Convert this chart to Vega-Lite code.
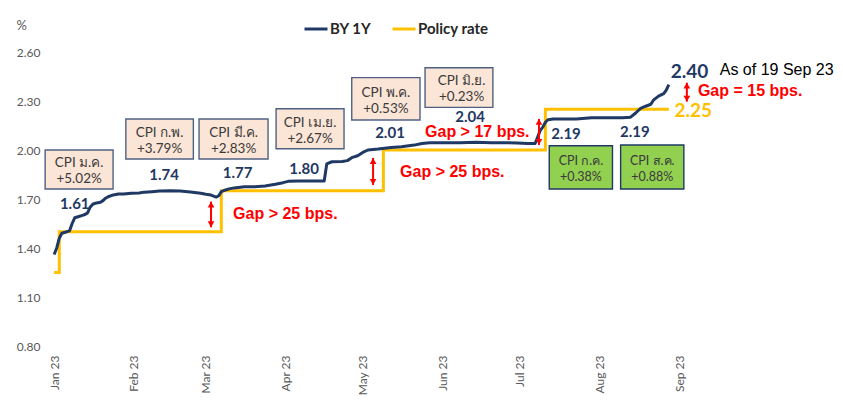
{
  "$schema": "https://vega.github.io/schema/vega-lite/v6.json",
  "width": 661,
  "height": 294,
  "autosize": {"type": "none"},
  "padding": {"left": 49, "top": 52, "right": 133, "bottom": 59},
  "background": "white",
  "config": {"view": {"stroke": null}, "font": "Lato"},
  "datasets": {
    "rates": [
      {"date": "2023-01-23T00:00:00Z", "series": "Policy rate", "value": 1.25},
      {"date": "2023-01-25T00:00:00Z", "series": "Policy rate", "value": 1.50},
      {"date": "2023-03-29T00:00:00Z", "series": "Policy rate", "value": 1.75},
      {"date": "2023-05-31T00:00:00Z", "series": "Policy rate", "value": 2.00},
      {"date": "2023-08-02T00:00:00Z", "series": "Policy rate", "value": 2.25},
      {"date": "2023-09-19T00:00:00Z", "series": "Policy rate", "value": 2.25},
      {"date": "2023-01-23T00:00:00Z", "series": "BY 1Y", "value": 1.36},
      {"date": "2023-01-24T00:00:00Z", "series": "BY 1Y", "value": 1.40},
      {"date": "2023-01-25T00:00:00Z", "series": "BY 1Y", "value": 1.46},
      {"date": "2023-01-26T00:00:00Z", "series": "BY 1Y", "value": 1.49},
      {"date": "2023-01-27T00:00:00Z", "series": "BY 1Y", "value": 1.495},
      {"date": "2023-01-29T00:00:00Z", "series": "BY 1Y", "value": 1.505},
      {"date": "2023-01-30T00:00:00Z", "series": "BY 1Y", "value": 1.55},
      {"date": "2023-01-31T00:00:00Z", "series": "BY 1Y", "value": 1.585},
      {"date": "2023-02-01T00:00:00Z", "series": "BY 1Y", "value": 1.59},
      {"date": "2023-02-03T00:00:00Z", "series": "BY 1Y", "value": 1.60},
      {"date": "2023-02-04T00:00:00Z", "series": "BY 1Y", "value": 1.605},
      {"date": "2023-02-05T00:00:00Z", "series": "BY 1Y", "value": 1.615},
      {"date": "2023-02-06T00:00:00Z", "series": "BY 1Y", "value": 1.65},
      {"date": "2023-02-07T00:00:00Z", "series": "BY 1Y", "value": 1.668},
      {"date": "2023-02-08T00:00:00Z", "series": "BY 1Y", "value": 1.674},
      {"date": "2023-02-10T00:00:00Z", "series": "BY 1Y", "value": 1.68},
      {"date": "2023-02-11T00:00:00Z", "series": "BY 1Y", "value": 1.69},
      {"date": "2023-02-12T00:00:00Z", "series": "BY 1Y", "value": 1.705},
      {"date": "2023-02-13T00:00:00Z", "series": "BY 1Y", "value": 1.714},
      {"date": "2023-02-15T00:00:00Z", "series": "BY 1Y", "value": 1.725},
      {"date": "2023-02-17T00:00:00Z", "series": "BY 1Y", "value": 1.73},
      {"date": "2023-02-19T00:00:00Z", "series": "BY 1Y", "value": 1.73},
      {"date": "2023-02-22T00:00:00Z", "series": "BY 1Y", "value": 1.735},
      {"date": "2023-02-25T00:00:00Z", "series": "BY 1Y", "value": 1.737},
      {"date": "2023-02-27T00:00:00Z", "series": "BY 1Y", "value": 1.742},
      {"date": "2023-03-02T00:00:00Z", "series": "BY 1Y", "value": 1.745},
      {"date": "2023-03-05T00:00:00Z", "series": "BY 1Y", "value": 1.749},
      {"date": "2023-03-09T00:00:00Z", "series": "BY 1Y", "value": 1.75},
      {"date": "2023-03-13T00:00:00Z", "series": "BY 1Y", "value": 1.749},
      {"date": "2023-03-17T00:00:00Z", "series": "BY 1Y", "value": 1.743},
      {"date": "2023-03-21T00:00:00Z", "series": "BY 1Y", "value": 1.735},
      {"date": "2023-03-23T00:00:00Z", "series": "BY 1Y", "value": 1.729},
      {"date": "2023-03-25T00:00:00Z", "series": "BY 1Y", "value": 1.724},
      {"date": "2023-03-27T00:00:00Z", "series": "BY 1Y", "value": 1.712},
      {"date": "2023-03-28T00:00:00Z", "series": "BY 1Y", "value": 1.72},
      {"date": "2023-03-29T00:00:00Z", "series": "BY 1Y", "value": 1.745},
      {"date": "2023-03-30T00:00:00Z", "series": "BY 1Y", "value": 1.752},
      {"date": "2023-04-01T00:00:00Z", "series": "BY 1Y", "value": 1.762},
      {"date": "2023-04-03T00:00:00Z", "series": "BY 1Y", "value": 1.768},
      {"date": "2023-04-07T00:00:00Z", "series": "BY 1Y", "value": 1.775},
      {"date": "2023-04-11T00:00:00Z", "series": "BY 1Y", "value": 1.775},
      {"date": "2023-04-15T00:00:00Z", "series": "BY 1Y", "value": 1.78},
      {"date": "2023-04-19T00:00:00Z", "series": "BY 1Y", "value": 1.79},
      {"date": "2023-04-22T00:00:00Z", "series": "BY 1Y", "value": 1.80},
      {"date": "2023-04-24T00:00:00Z", "series": "BY 1Y", "value": 1.808},
      {"date": "2023-04-28T00:00:00Z", "series": "BY 1Y", "value": 1.81},
      {"date": "2023-05-03T00:00:00Z", "series": "BY 1Y", "value": 1.81},
      {"date": "2023-05-08T00:00:00Z", "series": "BY 1Y", "value": 1.81},
      {"date": "2023-05-09T00:00:00Z", "series": "BY 1Y", "value": 1.915},
      {"date": "2023-05-11T00:00:00Z", "series": "BY 1Y", "value": 1.928},
      {"date": "2023-05-15T00:00:00Z", "series": "BY 1Y", "value": 1.93},
      {"date": "2023-05-17T00:00:00Z", "series": "BY 1Y", "value": 1.935},
      {"date": "2023-05-19T00:00:00Z", "series": "BY 1Y", "value": 1.955},
      {"date": "2023-05-21T00:00:00Z", "series": "BY 1Y", "value": 1.965},
      {"date": "2023-05-23T00:00:00Z", "series": "BY 1Y", "value": 1.985},
      {"date": "2023-05-25T00:00:00Z", "series": "BY 1Y", "value": 2.0},
      {"date": "2023-05-29T00:00:00Z", "series": "BY 1Y", "value": 2.006},
      {"date": "2023-06-03T00:00:00Z", "series": "BY 1Y", "value": 2.016},
      {"date": "2023-06-07T00:00:00Z", "series": "BY 1Y", "value": 2.02},
      {"date": "2023-06-12T00:00:00Z", "series": "BY 1Y", "value": 2.03},
      {"date": "2023-06-15T00:00:00Z", "series": "BY 1Y", "value": 2.04},
      {"date": "2023-06-18T00:00:00Z", "series": "BY 1Y", "value": 2.045},
      {"date": "2023-06-24T00:00:00Z", "series": "BY 1Y", "value": 2.045},
      {"date": "2023-06-30T00:00:00Z", "series": "BY 1Y", "value": 2.044},
      {"date": "2023-07-06T00:00:00Z", "series": "BY 1Y", "value": 2.047},
      {"date": "2023-07-12T00:00:00Z", "series": "BY 1Y", "value": 2.045},
      {"date": "2023-07-18T00:00:00Z", "series": "BY 1Y", "value": 2.044},
      {"date": "2023-07-22T00:00:00Z", "series": "BY 1Y", "value": 2.043},
      {"date": "2023-07-26T00:00:00Z", "series": "BY 1Y", "value": 2.04},
      {"date": "2023-07-29T00:00:00Z", "series": "BY 1Y", "value": 2.04},
      {"date": "2023-07-30T00:00:00Z", "series": "BY 1Y", "value": 2.08},
      {"date": "2023-07-31T00:00:00Z", "series": "BY 1Y", "value": 2.12},
      {"date": "2023-08-01T00:00:00Z", "series": "BY 1Y", "value": 2.14},
      {"date": "2023-08-02T00:00:00Z", "series": "BY 1Y", "value": 2.17},
      {"date": "2023-08-03T00:00:00Z", "series": "BY 1Y", "value": 2.185},
      {"date": "2023-08-05T00:00:00Z", "series": "BY 1Y", "value": 2.19},
      {"date": "2023-08-09T00:00:00Z", "series": "BY 1Y", "value": 2.19},
      {"date": "2023-08-14T00:00:00Z", "series": "BY 1Y", "value": 2.19},
      {"date": "2023-08-20T00:00:00Z", "series": "BY 1Y", "value": 2.197},
      {"date": "2023-08-26T00:00:00Z", "series": "BY 1Y", "value": 2.198},
      {"date": "2023-09-01T00:00:00Z", "series": "BY 1Y", "value": 2.198},
      {"date": "2023-09-04T00:00:00Z", "series": "BY 1Y", "value": 2.20},
      {"date": "2023-09-06T00:00:00Z", "series": "BY 1Y", "value": 2.225},
      {"date": "2023-09-08T00:00:00Z", "series": "BY 1Y", "value": 2.255},
      {"date": "2023-09-10T00:00:00Z", "series": "BY 1Y", "value": 2.268},
      {"date": "2023-09-12T00:00:00Z", "series": "BY 1Y", "value": 2.28},
      {"date": "2023-09-13T00:00:00Z", "series": "BY 1Y", "value": 2.305},
      {"date": "2023-09-15T00:00:00Z", "series": "BY 1Y", "value": 2.33},
      {"date": "2023-09-17T00:00:00Z", "series": "BY 1Y", "value": 2.345},
      {"date": "2023-09-18T00:00:00Z", "series": "BY 1Y", "value": 2.367},
      {"date": "2023-09-19T00:00:00Z", "series": "BY 1Y", "value": 2.40}
    ],
    "boxes": [
      {"kind": "peach", "date": "2023-01-19T12:00:00Z", "date2": "2023-02-14T22:00:00Z", "value": 2.000, "value2": 1.761, "cdate": "2023-02-01T17:00:00Z", "cvalue": 1.881, "label": "CPI ม.ค.\n+5.02%"},
      {"kind": "peach", "date": "2023-02-19T21:00:00Z", "date2": "2023-03-18T03:00:00Z", "value": 2.190, "value2": 1.945, "cdate": "2023-03-05T00:00:00Z", "cvalue": 2.067, "label": "CPI ก.พ.\n+3.79%"},
      {"kind": "peach", "date": "2023-03-20T08:00:00Z", "date2": "2023-04-16T04:00:00Z", "value": 2.190, "value2": 1.945, "cdate": "2023-04-02T18:00:00Z", "cvalue": 2.067, "label": "CPI มี.ค.\n+2.83%"},
      {"kind": "peach", "date": "2023-04-19T07:00:00Z", "date2": "2023-05-15T17:00:00Z", "value": 2.253, "value2": 2.008, "cdate": "2023-05-02T12:00:00Z", "cvalue": 2.130, "label": "CPI เม.ย.\n+2.67%"},
      {"kind": "peach", "date": "2023-05-18T17:00:00Z", "date2": "2023-06-14T06:00:00Z", "value": 2.443, "value2": 2.184, "cdate": "2023-06-01T00:00:00Z", "cvalue": 2.313, "label": "CPI พ.ค.\n+0.53%"},
      {"kind": "peach", "date": "2023-06-16T05:00:00Z", "date2": "2023-07-12T14:00:00Z", "value": 2.504, "value2": 2.261, "cdate": "2023-06-30T10:00:00Z", "cvalue": 2.383, "label": "CPI มิ.ย.\n+0.23%"},
      {"kind": "green", "date": "2023-08-03T12:00:00Z", "date2": "2023-08-28T02:00:00Z", "value": 2.026, "value2": 1.761, "cdate": "2023-08-15T19:00:00Z", "cvalue": 1.894, "label": "CPI ก.ค.\n+0.38%"},
      {"kind": "green", "date": "2023-08-31T06:00:00Z", "date2": "2023-09-24T20:00:00Z", "value": 2.031, "value2": 1.761, "cdate": "2023-09-12T13:00:00Z", "cvalue": 1.896, "label": "CPI ส.ค.\n+0.88%"}
    ],
    "labels": [
      {"kind": "small", "date": "2023-01-31T00:00:00Z", "value": 1.672, "label": "1.61"},
      {"kind": "small", "date": "2023-03-06T18:00:00Z", "value": 1.850, "label": "1.74"},
      {"kind": "small", "date": "2023-04-04T07:00:00Z", "value": 1.859, "label": "1.77"},
      {"kind": "small", "date": "2023-04-30T04:00:00Z", "value": 1.882, "label": "1.80"},
      {"kind": "small", "date": "2023-06-02T14:00:00Z", "value": 2.102, "label": "2.01"},
      {"kind": "small", "date": "2023-07-03T17:00:00Z", "value": 2.203, "label": "2.04"},
      {"kind": "small", "date": "2023-08-10T00:00:00Z", "value": 2.096, "label": "2.19"},
      {"kind": "small", "date": "2023-09-05T19:00:00Z", "value": 2.112, "label": "2.19"},
      {"kind": "endBY", "date": "2023-09-27T00:00:00Z", "value": 2.478, "label": "2.40"},
      {"kind": "endPolicy", "date": "2023-09-28T12:00:00Z", "value": 2.239, "label": "2.25"},
      {"kind": "asof", "date": "2023-10-08T19:00:00Z", "value": 2.490, "label": "As of 19 Sep 23"},
      {"kind": "gap", "date": "2023-04-02T14:00:00Z", "value": 1.608, "label": "Gap > 25 bps."},
      {"kind": "gap", "date": "2023-06-06T12:00:00Z", "value": 1.865, "label": "Gap > 25 bps."},
      {"kind": "gap", "date": "2023-06-16T05:00:00Z", "value": 2.108, "label": "Gap > 17 bps."},
      {"kind": "gap", "date": "2023-09-30T07:00:00Z", "value": 2.361, "label": "Gap = 15 bps."}
    ],
    "arrows": [
      {"date": "2023-03-25T00:00:00Z", "value": 1.684, "value2": 1.527},
      {"date": "2023-05-27T00:00:00Z", "value": 1.951, "value2": 1.786},
      {"date": "2023-07-30T12:00:00Z", "value": 2.190, "value2": 2.031},
      {"date": "2023-09-26T00:00:00Z", "value": 2.412, "value2": 2.296}
    ]
  },
  "layer": [
    {
      "data": {"name": "rates"},
      "transform": [{"filter": "datum.series === 'Policy rate'"}],
      "mark": {"type": "line", "interpolate": "step-after", "strokeWidth": 3, "strokeJoin": "miter"},
      "encoding": {
        "x": {
          "field": "date", "type": "temporal", "title": null,
          "scale": {"type": "utc", "domain": [{"year": 2023, "month": 1, "date": 21, "utc": true}, {"year": 2023, "month": 10, "date": 5, "utc": true}]},
          "axis": {
            "values": [
              {"year": 2023, "month": 1, "date": 23, "utc": true},
              {"year": 2023, "month": 2, "date": 23, "utc": true},
              {"year": 2023, "month": 3, "date": 23, "utc": true},
              {"year": 2023, "month": 4, "date": 23, "utc": true},
              {"year": 2023, "month": 5, "date": 23, "utc": true},
              {"year": 2023, "month": 6, "date": 23, "utc": true},
              {"year": 2023, "month": 7, "date": 23, "utc": true},
              {"year": 2023, "month": 8, "date": 23, "utc": true},
              {"year": 2023, "month": 9, "date": 23, "utc": true}
            ],
            "labelExpr": "utcFormat(datum.value, '%b %y')",
            "labelAngle": -90, "labelPadding": 9, "labelFontSize": 12, "labelColor": "#595959",
            "labelFont": "Lato", "ticks": false, "domain": false, "grid": false, "labelOverlap": false
          }
        },
        "y": {
          "field": "value", "type": "quantitative", "title": "%",
          "scale": {"domain": [0.8, 2.6], "nice": false, "zero": false},
          "axis": {
            "values": [0.8, 1.1, 1.4, 1.7, 2.0, 2.3, 2.6], "format": ".2f",
            "labelPadding": 9, "labelFontSize": 12, "labelColor": "#595959", "labelFont": "Lato",
            "ticks": false, "domain": false, "grid": false,
            "titleAngle": 0, "titleX": -33, "titleY": -27, "titleAlign": "left", "titleBaseline": "middle",
            "titleFont": "Lato", "titleFontSize": 13, "titleFontWeight": "normal", "titleColor": "#595959"
          }
        },
        "color": {
          "field": "series", "type": "nominal",
          "scale": {"domain": ["BY 1Y", "Policy rate"], "range": ["#1F3864", "#FFC000"]},
          "legend": {
            "title": null, "orient": "none", "direction": "horizontal", "legendX": 254, "legendY": -36,
            "symbolType": "stroke", "symbolSize": 529, "symbolStrokeWidth": 3, "labelOffset": 1,
            "columnPadding": 14, "labelFont": "Lato", "labelFontSize": 15, "labelFontWeight": "bold", "labelColor": "#262626"
          }
        }
      }
    },
    {
      "data": {"name": "rates"},
      "transform": [{"filter": "datum.series === 'BY 1Y'"}],
      "mark": {"type": "line", "strokeWidth": 3, "strokeJoin": "round"},
      "encoding": {
        "x": {"field": "date", "type": "temporal", "title": null},
        "y": {"field": "value", "type": "quantitative", "title": "%"},
        "color": {"field": "series", "type": "nominal"}
      }
    },
    {
      "data": {"name": "boxes"},
      "transform": [{"filter": "datum.kind === 'peach'"}],
      "mark": {"type": "rect", "fill": "#FBE5D6", "stroke": "#4F6182", "strokeWidth": 1.4},
      "encoding": {
        "x": {"field": "date", "type": "temporal", "title": null},
        "x2": {"field": "date2"},
        "y": {"field": "value", "type": "quantitative", "title": "%"},
        "y2": {"field": "value2"}
      }
    },
    {
      "data": {"name": "boxes"},
      "transform": [{"filter": "datum.kind === 'green'"}],
      "mark": {"type": "rect", "fill": "#92D050", "stroke": "#1F3864", "strokeWidth": 1.4},
      "encoding": {
        "x": {"field": "date", "type": "temporal", "title": null},
        "x2": {"field": "date2"},
        "y": {"field": "value", "type": "quantitative", "title": "%"},
        "y2": {"field": "value2"}
      }
    },
    {
      "data": {"name": "boxes"},
      "transform": [{"filter": "datum.kind === 'peach'"}],
      "mark": {"type": "text", "lineBreak": "\n", "lineHeight": 16, "fontSize": 13.5, "dy": -6, "color": "#3A3A3A", "align": "center", "baseline": "middle", "font": "Lato"},
      "encoding": {
        "x": {"field": "cdate", "type": "temporal", "title": null},
        "y": {"field": "cvalue", "type": "quantitative", "title": "%"},
        "text": {"field": "label"}
      }
    },
    {
      "data": {"name": "boxes"},
      "transform": [{"filter": "datum.kind === 'green'"}],
      "mark": {"type": "text", "lineBreak": "\n", "lineHeight": 16, "fontSize": 12.5, "dy": -6, "color": "#3A3A3A", "align": "center", "baseline": "middle", "font": "Lato"},
      "encoding": {
        "x": {"field": "cdate", "type": "temporal", "title": null},
        "y": {"field": "cvalue", "type": "quantitative", "title": "%"},
        "text": {"field": "label"}
      }
    },
    {
      "data": {"name": "arrows"},
      "mark": {"type": "rule", "color": "#FF0000", "strokeWidth": 2},
      "encoding": {
        "x": {"field": "date", "type": "temporal", "title": null},
        "y": {"field": "value", "type": "quantitative", "title": "%"},
        "y2": {"field": "value2"}
      }
    },
    {
      "data": {"name": "arrows"},
      "mark": {"type": "point", "shape": "triangle-up", "filled": true, "color": "#FF0000", "size": 45, "opacity": 1, "yOffset": 3},
      "encoding": {
        "x": {"field": "date", "type": "temporal", "title": null},
        "y": {"field": "value", "type": "quantitative", "title": "%"}
      }
    },
    {
      "data": {"name": "arrows"},
      "mark": {"type": "point", "shape": "triangle-down", "filled": true, "color": "#FF0000", "size": 45, "opacity": 1, "yOffset": -3},
      "encoding": {
        "x": {"field": "date", "type": "temporal", "title": null},
        "y": {"field": "value2", "type": "quantitative", "title": "%"}
      }
    },
    {
      "data": {"name": "labels"},
      "transform": [{"filter": "datum.kind === 'small'"}],
      "mark": {"type": "text", "font": "Lato", "fontWeight": "bold", "fontSize": 15, "color": "#1F3864", "align": "center", "baseline": "middle"},
      "encoding": {
        "x": {"field": "date", "type": "temporal", "title": null},
        "y": {"field": "value", "type": "quantitative", "title": "%"},
        "text": {"field": "label"}
      }
    },
    {
      "data": {"name": "labels"},
      "transform": [{"filter": "datum.kind === 'endBY'"}],
      "mark": {"type": "text", "font": "Lato", "fontWeight": "bold", "fontSize": 19, "color": "#1F3864", "align": "center", "baseline": "middle"},
      "encoding": {
        "x": {"field": "date", "type": "temporal", "title": null},
        "y": {"field": "value", "type": "quantitative", "title": "%"},
        "text": {"field": "label"}
      }
    },
    {
      "data": {"name": "labels"},
      "transform": [{"filter": "datum.kind === 'endPolicy'"}],
      "mark": {"type": "text", "font": "Lato", "fontWeight": "bold", "fontSize": 19, "color": "#FFC000", "align": "center", "baseline": "middle"},
      "encoding": {
        "x": {"field": "date", "type": "temporal", "title": null},
        "y": {"field": "value", "type": "quantitative", "title": "%"},
        "text": {"field": "label"}
      }
    },
    {
      "data": {"name": "labels"},
      "transform": [{"filter": "datum.kind === 'asof'"}],
      "mark": {"type": "text", "font": "Liberation Sans", "fontSize": 16, "color": "#000000", "align": "left", "baseline": "middle"},
      "encoding": {
        "x": {"field": "date", "type": "temporal", "title": null},
        "y": {"field": "value", "type": "quantitative", "title": "%"},
        "text": {"field": "label"}
      }
    },
    {
      "data": {"name": "labels"},
      "transform": [{"filter": "datum.kind === 'gap'"}],
      "mark": {"type": "text", "font": "Liberation Sans", "fontWeight": "bold", "fontSize": 16, "color": "#FF0000", "align": "left", "baseline": "middle"},
      "encoding": {
        "x": {"field": "date", "type": "temporal", "title": null},
        "y": {"field": "value", "type": "quantitative", "title": "%"},
        "text": {"field": "label"}
      }
    }
  ]
}
